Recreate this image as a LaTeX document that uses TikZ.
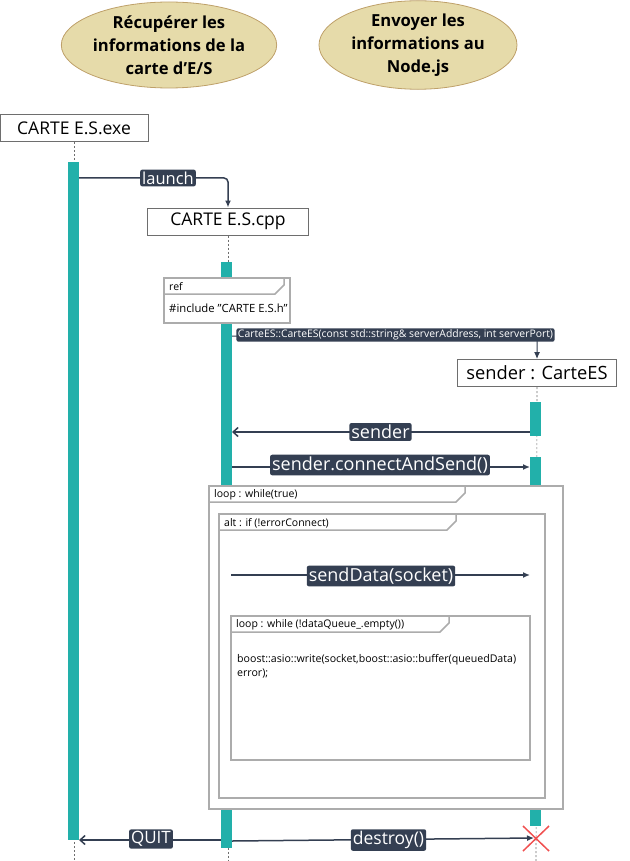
\documentclass[tikz,border=0pt]{standalone}
\usepackage{fontspec}
\setmainfont{Open Sans}
\usetikzlibrary{positioning,arrows.meta,shapes.geometric}
\definecolor{tealbar}{RGB}{34,176,170}
\definecolor{msgdark}{RGB}{52,63,82}
\definecolor{notefill}{RGB}{230,219,170}
\definecolor{notedraw}{RGB}{190,160,105}
\definecolor{framegray}{RGB}{172,172,172}
\definecolor{linegray}{RGB}{110,110,110}
\definecolor{crossred}{RGB}{240,80,80}
\tikzset{
  goal/.style={ellipse,draw=notedraw,fill=notefill,line width=0.8pt,
    minimum width=198,minimum height=86,inner sep=0pt,align=center,
    font=\fontsize{16.6}{23}\selectfont\bfseries},
  actor/.style={draw=linegray,fill=white,line width=1pt,
    minimum height=27,font=\fontsize{17.5}{20}\selectfont},
  lifeline/.style={linegray,dashed,dash pattern=on 2pt off 2pt,line width=0.6pt},
  bar/.style={fill=tealbar},
  msg/.style={msgdark,line width=1.5pt},
  call/.style={msg,-{Latex[length=7pt,width=6pt]}},
  reply/.style={msg,-{Straight Barb[length=5pt,width=9pt]}},
  msglabel/.style={fill=msgdark,text=white,rounded corners=2pt,inner sep=2pt,
    font=\fontsize{18}{20}\selectfont},
  smalllabel/.style={msglabel,inner sep=1.5pt,font=\fontsize{10.4}{12}\selectfont},
  frametext/.style={anchor=west,inner sep=0pt,font=\fontsize{10.5}{12.5}\selectfont},
  umlframe/.style={draw=framegray,fill=white,line width=1.5pt},
}
% frame: x1 y1 x2 y2 tab-x head-y label
\newcommand{\seqframe}[7]{%
  \draw[umlframe] (#1,#2) rectangle (#3,#4);
  \draw[framegray,line width=1.5pt] (#1,#6) -- (#5-9,#6) -- (#5,#6-9) -- (#5,#2);
  \node[frametext] at (#1+5,#2+9) {#7};
}
\begin{document}
\begin{tikzpicture}[x=1pt,y=-1pt]
  \useasboundingbox (0,0) rectangle (629,861);
  % goals
  \node[goal] (recup) at (169,45) {Récupérer les\\informations de la\\carte d’E/S};
  \node[goal] (envoi) at (418,45) {Envoyer les\\informations au\\Node.js};
  % lifelines
  \node[actor,minimum width=148] (exe) at (74,128) {CARTE E.S.exe};
  \node[actor,minimum width=161] (cpp) at (228,221.5) {CARTE E.S.cpp};
  \node[actor,minimum width=159,font=\fontsize{18.3}{20}\selectfont] (sender) at (537,373) {sender : CarteES};
  \coordinate (exeend) at (74,861);
  \coordinate (cppend) at (228,861);
  \coordinate (senderend) at (536,861);
  \draw[lifeline] (exe.south) -- (exeend);
  \draw[lifeline] (cpp.south) -- (cppend);
  \draw[lifeline] (sender.south) -- (senderend);
  % activations
  \fill[bar] (68,162) rectangle (79,840);
  \fill[bar] (221,262) rectangle (232,848);
  \fill[bar] (530,402) rectangle (541,436);
  \fill[bar] (530,457) rectangle (541,826);
  % ref
  \seqframe{164}{278}{290}{323}{284}{294}{ref}
  \node[frametext,font=\fontsize{11.3}{13}\selectfont] (incl) at (169,308) {\#include "CARTE E.S.h"};
  % frames
  \seqframe{209}{486}{563}{809}{465}{502}{loop : while(true)}
  \seqframe{219}{514}{545}{798}{456}{530}{alt : if (!errorConnect)}
  \seqframe{231}{616}{530}{760}{449}{632}{loop : while (!dataQueue\_.empty())}
  \node[frametext,align=left,anchor=north west,font=\fontsize{10.6}{14}\selectfont] (write) at (237,654)
    {boost::asio::write(socket,boost::asio::buffer(queuedData)\\error);};
  % message ends
  \coordinate (launchA) at (79,178);
  \coordinate (ctorA) at (232,336);
  \coordinate (senderA) at (530,432);
  \coordinate (senderB) at (232,432);
  \coordinate (connA) at (232,467);
  \coordinate (connB) at (530,467);
  \coordinate (sendA) at (231,575);
  \coordinate (sendB) at (530,575);
  \coordinate (quitA) at (221,840);
  \coordinate (quitB) at (79,840);
  \coordinate (destA) at (232,841);
  \coordinate (destB) at (534,838);
  % messages
  \draw[call,rounded corners=4pt] (launchA) -| (cpp.north);
  \node[msglabel,font=\fontsize{16.5}{18}\selectfont] (launch) at (168,178) {launch};
  \draw[call,line width=1pt,rounded corners=3pt] (ctorA) -| (sender.north);
  \node[smalllabel] (ctor) at (395.5,335) {CarteES::CarteES(const std::string\& serverAddress, int serverPort)};
  \draw[reply] (senderA) -- (senderB);
  \node[msglabel] (senderlbl) at (380.5,432) {sender};
  \draw[call] (connA) -- (connB);
  \node[msglabel] (conn) at (380,465) {sender.connectAndSend()};
  \draw[call] (sendA) -- (sendB);
  \node[msglabel] (send) at (381,576) {sendData(socket)};
  \draw[reply] (quitA) -- (quitB);
  \node[msglabel,font=\fontsize{17}{19}\selectfont] (quit) at (151,839) {QUIT};
  \draw[call] (destA) -- (destB);
  \node[msglabel,font=\fontsize{17.5}{19}\selectfont] (destroy) at (388.5,840) {destroy()};
  % destruction
  \draw[crossred,line width=1.5pt] (523,826) -- (549,851) (549,826) -- (523,851);
\end{tikzpicture}
\end{document}
